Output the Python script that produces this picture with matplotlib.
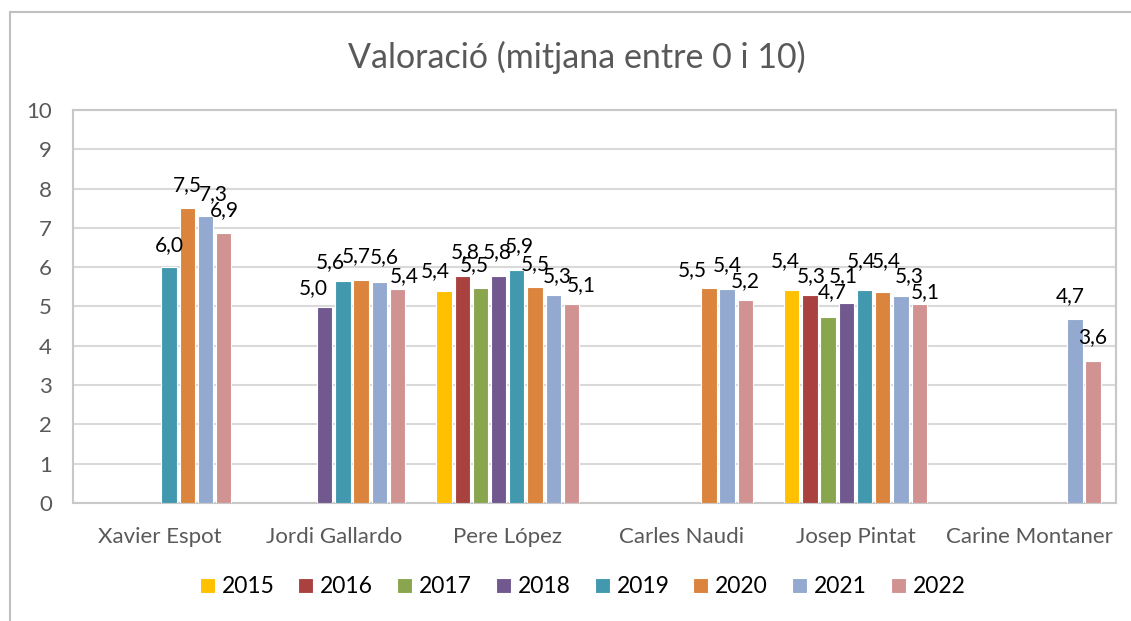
import numpy as np
import matplotlib.pyplot as plt
from matplotlib.patches import Rectangle

plt.rcParams["font.family"] = ["Lato", "DejaVu Sans"]

candidates = ["Xavier Espot", "Jordi Gallardo", "Pere López",
              "Carles Naudi", "Josep Pintat", "Carine Montaner"]
years = ["2015", "2016", "2017", "2018", "2019", "2020", "2021", "2022"]
colors = ["#FFC000", "#A9423F", "#89A54E", "#71588F",
          "#4198AF", "#DB843D", "#93A9CF", "#D19392"]

nan = np.nan
v2015 = [nan, nan, 5.40, nan, 5.43, nan]
v2016 = [nan, nan, 5.78, nan, 5.28, nan]
v2017 = [nan, nan, 5.48, nan, 4.72, nan]
v2018 = [nan, 4.98, 5.78, nan, 5.10, nan]
v2019 = [6.00, 5.64, 5.92, nan, 5.42, nan]
v2020 = [7.50, 5.68, 5.50, 5.48, 5.36, nan]
v2021 = [7.30, 5.63, 5.30, 5.44, 5.27, 4.68]
v2022 = [6.88, 5.44, 5.07, 5.16, 5.07, 3.60]
series = [v2015, v2016, v2017, v2018, v2019, v2020, v2021, v2022]

# label nudges in pixels (dx, height of baseline above bar top), like Excel's
# own placement of overlapping data labels
LABEL_OFFSETS = {
    (0, 4): (0, 16), (0, 5): (0, 17), (0, 6): (8, 16), (0, 7): (1, 16),
    (1, 3): (-11, 13), (1, 4): (-13, 13), (1, 5): (-5, 18), (1, 6): (5, 19),
    (1, 7): (7, 7),
    (2, 0): (-9, 14), (2, 1): (3, 18), (2, 2): (-6, 17), (2, 3): (-1, 18),
    (2, 4): (3, 18), (2, 5): (0, 17), (2, 6): (4, 13), (2, 7): (10, 13),
    (3, 5): (-17, 12), (3, 6): (0, 18), (3, 7): (0, 13),
    (4, 0): (-6, 22), (4, 1): (1, 13), (4, 2): (4, 19), (4, 3): (-3, 20),
    (4, 4): (-3, 23), (4, 5): (4, 25), (4, 6): (8, 14), (4, 7): (6, 6),
    (5, 6): (-5, 17), (5, 7): (0, 18),
}

fig = plt.figure(figsize=(11.31, 6.21), dpi=100)
ax = fig.add_axes([0.0645, 0.190, 0.9225, 0.633])

# outer chart frame (only left and top edges are visible)
fig.patches.append(Rectangle((10 / 1131, -0.1), 1.2, (621 - 12) / 621 + 0.1,
                             transform=fig.transFigure, fill=False,
                             edgecolor="#BFBFBF", linewidth=1.5))

x = np.arange(len(candidates))
step = 0.1047
width = 0.088
for i, (vals, year, col) in enumerate(zip(series, years, colors)):
    pos = x + (i - 3.5) * step
    vals = np.array(vals, dtype=float)
    ax.bar(pos, vals, width=width, color=col, edgecolor="white",
           linewidth=0.8, label=year, zorder=3)
    for j, (p, v) in enumerate(zip(pos, vals)):
        if np.isnan(v):
            continue
        dx, dy = LABEL_OFFSETS.get((j, i), (0, 15))
        ax.annotate(f"{v:.1f}".replace(".", ","), (p, v), xytext=(dx, dy),
                    textcoords="offset pixels", ha="center", va="baseline",
                    fontsize=15, color="#000000", zorder=4)

ax.set_xlim(-0.5, 5.5)
ax.set_ylim(0, 10)
ax.set_yticks(range(0, 11))
ax.set_xticks(x)
ax.set_xticklabels(candidates)
ax.tick_params(axis="both", length=0, labelsize=16, colors="#595959")
ax.tick_params(axis="x", pad=17)
ax.tick_params(axis="y", pad=15)
ax.grid(axis="y", color="#D9D9D9", linewidth=1.5, zorder=0)
for s in ax.spines.values():
    s.set_color("#C8C8C8")
    s.set_linewidth(1.5)

fig.text(0.51, 0.907, "Valoració (mitjana entre 0 i 10)", ha="center",
         va="center", fontsize=24.5, color="#595959")

fig.legend(loc="center", bbox_to_anchor=(0.515, 0.055), ncol=8,
           frameon=False, fontsize=16.5, handlelength=0.65, handleheight=0.65,
           handletextpad=0.3, columnspacing=1.05)

plt.savefig("out.png", dpi=100)
